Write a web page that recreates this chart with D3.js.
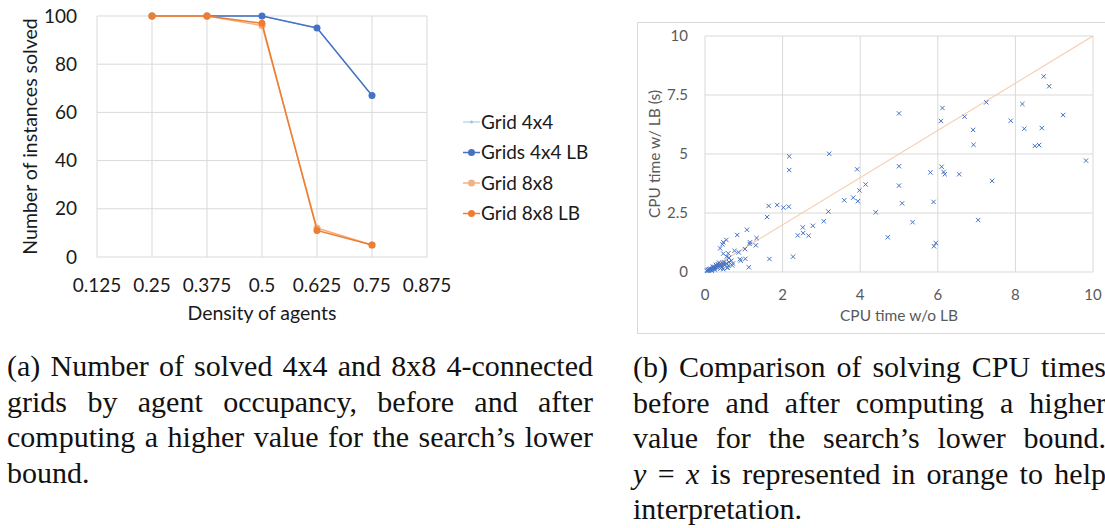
<!DOCTYPE html>
<html>
<head>
  <meta charset="utf-8">
  <title>Solved instances and CPU times</title>
  <script src="https://d3js.org/d3.v7.min.js" charset="utf-8"></script>
  <style type="text/css">
    body { margin: 0; background: #fff; }
    svg { display: block; }
  </style>
</head>
<body>
<script>

// ---- data: left chart (number of instances solved) ----
var densities = [0.25, 0.375, 0.5, 0.625, 0.75];
var densityTicks = [0.125, 0.25, 0.375, 0.5, 0.625, 0.75, 0.875];
var solvedTicks = [0, 20, 40, 60, 80, 100];
var seriesNames = ["Grid 4x4", "Grids 4x4 LB", "Grid 8x8", "Grid 8x8 LB"];
var grid4 = [100, 100, 100, 95, 67];
var grid4LB = [100, 100, 100, 95, 67];
var grid8 = [100, 100, 96, 12, 5];
var grid8LB = [100, 100, 97, 11, 5];

// ---- data: right chart (CPU time w/o LB vs w/ LB) ----
var cpuTicksX = [0, 2, 4, 6, 8, 10];
var cpuTicksY = [0, 2.5, 5, 7.5, 10];
var cpuWithout = [8.73, 8.87, 7.25, 8.18, 6.12, 5.0, 9.23, 6.69, 6.08, 7.88, 6.91, 8.23, 8.68, 6.92, 8.50, 8.61, 9.82, 5.0, 5.81, 6.10, 6.15, 6.18, 6.55, 7.40, 4.14, 3.98, 5.0, 5.08, 5.89, 4.40, 5.35, 7.04, 4.71, 5.95, 5.90,
  2.17, 3.2, 2.17, 3.92, 3.82, 3.59, 3.94, 3.18, 3.06, 2.78, 2.52, 2.53, 2.39, 2.67, 2.27, 1.66, 1.64, 1.86, 2.02, 2.16, 1.60, 1.08, 0.83, 1.33, 1.16, 1.15, 1.31, 1.03, 0.76, 0.87, 0.55, 0.47, 0.45, 0.39, 0.47, 0.56, 1.04, 0.90, 0.92, 0.68, 0.70, 1.13, 0.58,
  0.60, 0.62, 0.55, 0.72,
  0.05, 0.08, 0.10, 0.12, 0.15, 0.14, 0.18, 0.20, 0.22, 0.25, 0.24, 0.28, 0.30, 0.32, 0.35, 0.33, 0.38, 0.40, 0.42, 0.45, 0.48, 0.50, 0.52, 0.55, 0.36, 0.28, 0.20, 0.10, 0.07, 0.17, 0.26, 0.44, 0.60, 0.62, 0.58, 0.47, 0.40];
var cpuWith = [8.29, 7.87, 7.19, 7.12, 6.95, 6.72, 6.65, 6.58, 6.40, 6.41, 6.02, 6.07, 6.10, 5.39, 5.34, 5.38, 4.72, 4.48, 4.22, 4.46, 4.24, 4.14, 4.14, 3.86, 3.71, 3.46, 3.66, 2.91, 2.97, 2.53, 2.11, 2.20, 1.47, 1.23, 1.09,
  4.90, 5.01, 4.32, 4.35, 3.15, 3.04, 3.00, 2.56, 2.15, 1.96, 1.89, 1.65, 1.55, 1.54, 0.65, 0.55, 2.80, 2.84, 2.73, 2.77, 2.33, 1.79, 1.57, 1.44, 1.26, 1.19, 1.13, 0.97, 0.90, 0.83, 1.36, 1.26, 1.17, 1.00, 0.78, 0.65, 0.56, 0.54, 0.48, 0.48, 0.28, 0.20, 0.18,
  0.79, 0.60, 0.36, 0.36,
  0.05, 0.07, 0.06, 0.10, 0.09, 0.14, 0.12, 0.16, 0.13, 0.18, 0.22, 0.20, 0.25, 0.19, 0.28, 0.33, 0.30, 0.35, 0.26, 0.38, 0.32, 0.42, 0.30, 0.36, 0.40, 0.30, 0.22, 0.12, 0.09, 0.06, 0.10, 0.20, 0.28, 0.42, 0.18, 0.12, 0.15];

var captionA = ["(a) Number of solved 4x4 and 8x8 4-connected",
  "grids by agent occupancy, before and after",
  "computing a higher value for the search\u2019s lower",
  "bound."];
var captionB = ["(b) Comparison of solving CPU times",
  "before and after computing a higher",
  "value for the search\u2019s lower bound.",
  "y = x is represented in orange to help",
  "interpretation."];

var width = 1105, height = 528;
var gridColor = "#d9d9d9";
var sansFont = "Lato, 'Open Sans', sans-serif";

var svg = d3.select("body").append("svg").attr("width", width).attr("height", height);
svg.append("rect").attr("width", width).attr("height", height).attr("fill", "#fff");

//////////////// left chart ////////////////
var xL = d3.scaleLinear().domain([0.125, 0.875]).range([97, 427]);
var yL = d3.scaleLinear().domain([0, 100]).range([257, 16]);

var left = svg.append("g");

left.selectAll(".vg").data(densityTicks).enter().append("line")
  .attr("x1", function(d){ return xL(d); }).attr("x2", function(d){ return xL(d); })
  .attr("y1", yL(0)).attr("y2", yL(100))
  .attr("stroke", gridColor).attr("stroke-width", 1);
left.selectAll(".hg").data(solvedTicks).enter().append("line")
  .attr("x1", xL(0.125)).attr("x2", xL(0.875))
  .attr("y1", function(d){ return yL(d); }).attr("y2", function(d){ return yL(d); })
  .attr("stroke", gridColor).attr("stroke-width", 1);

left.selectAll(".yt").data(solvedTicks).enter().append("text")
  .attr("x", 77).attr("y", function(d){ return yL(d); })
  .attr("dy", "0.35em").attr("text-anchor", "end")
  .attr("font-family", sansFont).attr("font-size", 19).attr("fill", "#1a1a1a")
  .text(function(d){ return d; });
left.selectAll(".xt").data(densityTicks).enter().append("text")
  .attr("x", function(d){ return xL(d); }).attr("y", 285)
  .attr("dy", "0.35em").attr("text-anchor", "middle")
  .attr("font-family", sansFont).attr("font-size", 19).attr("fill", "#1a1a1a")
  .text(function(d){ return d; });

left.append("text").attr("x", 262).attr("y", 313).attr("dy", "0.35em")
  .attr("text-anchor", "middle").attr("font-family", sansFont).attr("font-size", 19.5)
  .attr("fill", "#1a1a1a").text("Density of agents");
left.append("text").attr("transform", "translate(30," + yL(50) + ") rotate(-90)")
  .attr("dy", "0.35em").attr("text-anchor", "middle").attr("font-family", sansFont)
  .attr("font-size", 19.5).attr("fill", "#1a1a1a").text("Number of instances solved");

var series = [
  {name: seriesNames[0], values: grid4, color: "#9dc3e6", width: 1, r: 1.5},
  {name: seriesNames[1], values: grid4LB, color: "#4472c4", width: 1.5, r: 3.5},
  {name: seriesNames[2], values: grid8, color: "#f4b183", width: 1.5, r: 3.5},
  {name: seriesNames[3], values: grid8LB, color: "#ed7d31", width: 1.5, r: 3.5}
];

var line = d3.line()
  .x(function(d, i){ return xL(densities[i]); })
  .y(function(d){ return yL(d); });

series.forEach(function(s){
  left.append("path").attr("d", line(s.values)).attr("fill", "none")
    .attr("stroke", s.color).attr("stroke-width", s.width);
  left.selectAll(null).data(s.values).enter().append("circle")
    .attr("cx", function(d, i){ return xL(densities[i]); })
    .attr("cy", function(d){ return yL(d); })
    .attr("r", s.r).attr("fill", s.color);
});

// legend
var legend = left.append("g").selectAll("g").data(series).enter().append("g")
  .attr("transform", function(d, i){ return "translate(463," + (122 + i * 30.5) + ")"; });
legend.append("line").attr("x1", 0).attr("x2", 17)
  .attr("stroke", function(d){ return d.color; }).attr("stroke-width", function(d){ return d.width; });
legend.append("circle").attr("cx", 8.5).attr("r", function(d){ return d.r; })
  .attr("fill", function(d){ return d.color; });
legend.append("text").attr("x", 18).attr("dy", "0.35em")
  .attr("font-family", sansFont).attr("font-size", 19).attr("fill", "#1a1a1a")
  .text(function(d){ return d.name; });

//////////////// right chart ////////////////
var xR = d3.scaleLinear().domain([0, 10]).range([705, 1093]);
var yR = d3.scaleLinear().domain([0, 10]).range([272, 36]);

var right = svg.append("g");
right.append("rect").attr("x", 637.5).attr("y", 22.5).attr("width", 490).attr("height", 311)
  .attr("fill", "none").attr("stroke", gridColor).attr("stroke-width", 1);

right.selectAll(".vg").data(cpuTicksX).enter().append("line")
  .attr("x1", function(d){ return xR(d); }).attr("x2", function(d){ return xR(d); })
  .attr("y1", yR(0)).attr("y2", yR(10))
  .attr("stroke", gridColor).attr("stroke-width", 1);
right.selectAll(".hg").data(cpuTicksY).enter().append("line")
  .attr("x1", xR(0)).attr("x2", xR(10))
  .attr("y1", function(d){ return yR(d); }).attr("y2", function(d){ return yR(d); })
  .attr("stroke", gridColor).attr("stroke-width", 1);

right.selectAll(".yt").data(cpuTicksY).enter().append("text")
  .attr("x", 688).attr("y", function(d){ return yR(d); }).attr("dy", "0.35em")
  .attr("text-anchor", "end").attr("font-family", sansFont).attr("font-size", 15)
  .attr("fill", "#595959").text(function(d){ return d; });
right.selectAll(".xt").data(cpuTicksX).enter().append("text")
  .attr("x", function(d){ return xR(d); }).attr("y", 295).attr("dy", "0.35em")
  .attr("text-anchor", "middle").attr("font-family", sansFont).attr("font-size", 15)
  .attr("fill", "#595959").text(function(d){ return d; });

right.append("text").attr("x", xR(5)).attr("y", 316).attr("dy", "0.35em")
  .attr("text-anchor", "middle").attr("font-family", sansFont).attr("font-size", 15.5)
  .attr("fill", "#595959").text("CPU time w/o LB");
right.append("text").attr("transform", "translate(655," + yR(5) + ") rotate(-90)")
  .attr("dy", "0.35em").attr("text-anchor", "middle").attr("font-family", sansFont)
  .attr("font-size", 15.5).attr("fill", "#595959").text("CPU time w/ LB (s)");

// y = x reference
right.append("line").attr("x1", xR(0)).attr("y1", yR(0)).attr("x2", xR(10)).attr("y2", yR(10))
  .attr("stroke", "#f8cbad").attr("stroke-width", 1.2);

var cross = d3.symbol().type(d3.symbolTimes).size(14);
right.selectAll(".pt").data(cpuWithout).enter().append("path")
  .attr("d", cross)
  .attr("transform", function(d, i){ return "translate(" + xR(d) + "," + yR(cpuWith[i]) + ")"; })
  .attr("fill", "none").attr("stroke", "#4472c4").attr("stroke-width", 1);

//////////////// captions ////////////////
var serif = "'Liberation Serif', 'DejaVu Serif', serif";

function caption(lines, x0, x1, y0) {
  lines.forEach(function(txt, i){
    var t = svg.append("text").attr("x", x0).attr("y", y0 + i * 35.5)
      .attr("font-family", serif).attr("font-size", 30).attr("fill", "#111");
    if (txt.indexOf("y = x") === 0) {
      t.append("tspan").attr("font-style", "italic").text("y");
      t.append("tspan").text(" = ");
      t.append("tspan").attr("font-style", "italic").text("x");
      t.append("tspan").text(txt.slice(5));
    } else {
      t.text(txt);
    }
    if (i < lines.length - 1) {
      var natural = t.node().getComputedTextLength();
      var spaces = txt.split(" ").length - 1;
      if (spaces > 0) t.attr("word-spacing", ((x1 - x0) - natural) / spaces);
    }
  });
}
caption(captionA, 7, 593, 376);
caption(captionB, 633, 1106, 377);

</script>
</body>
</html>
